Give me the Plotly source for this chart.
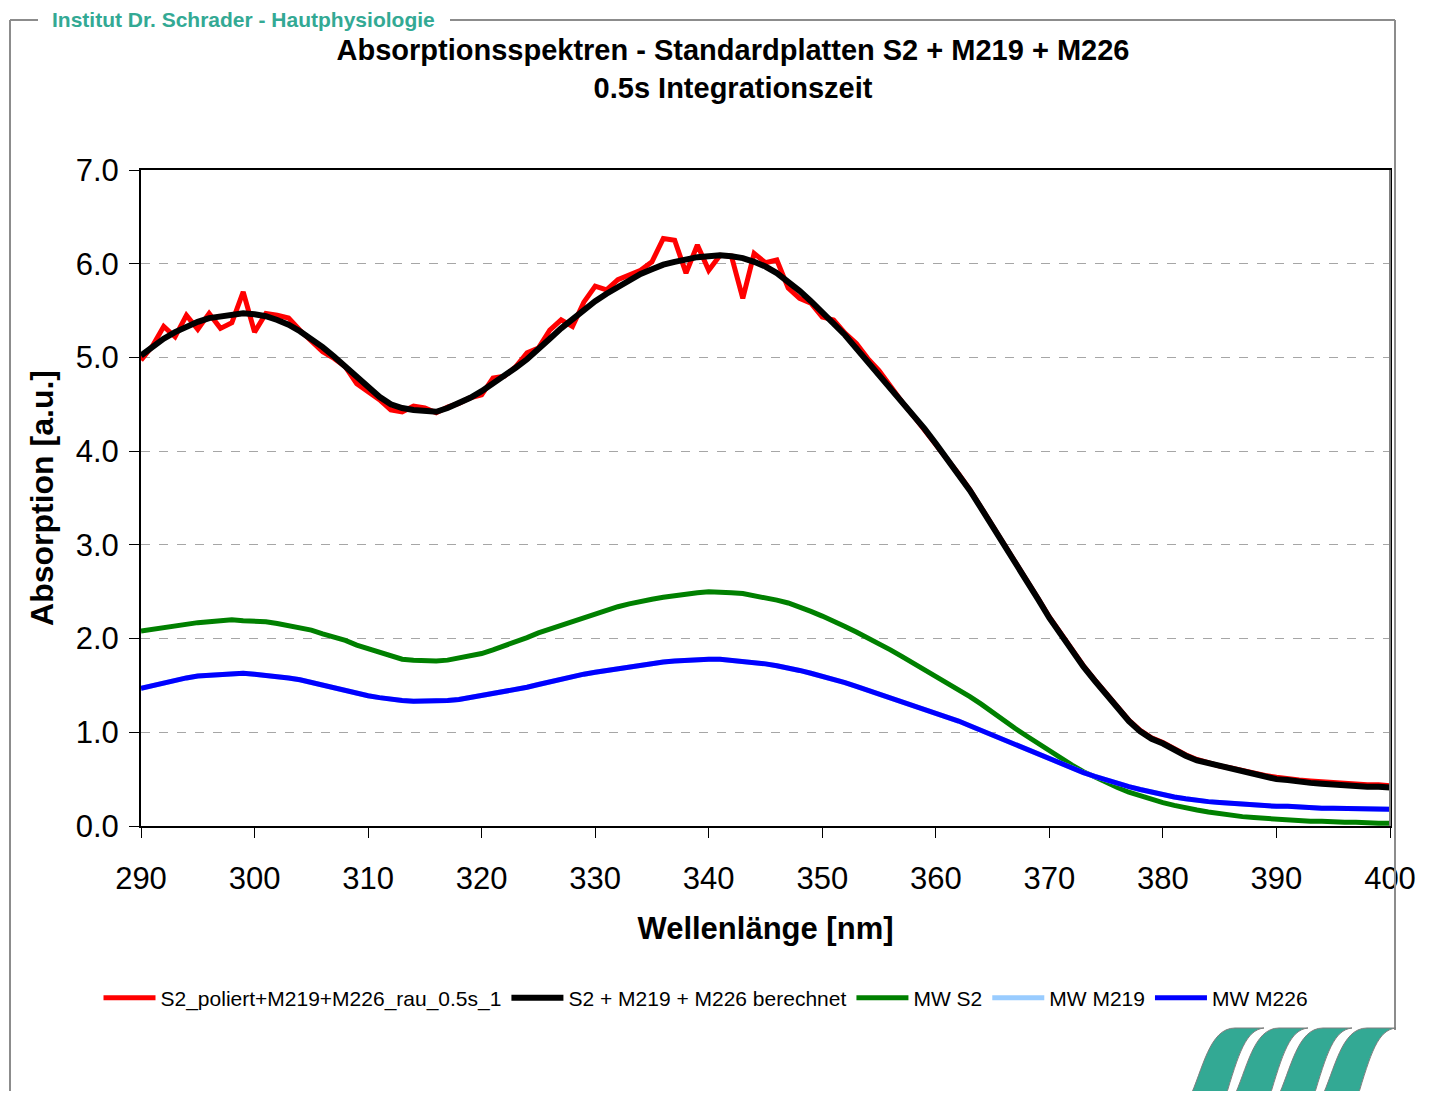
import plotly.graph_objects as go

OFF = 8                      # default page margin of the html body
PW, PH = 1431, 1099          # page size
W, H = PW - 2 * OFF, PH - 2 * OFF
L, R, T, B = 141, 1390, 170, 826   # plot area in page pixels

wavelength = list(range(290, 401))

measured = [4.97, 5.12, 5.33, 5.22, 5.45, 5.30, 5.47, 5.31, 5.37, 5.70,
            5.27, 5.47, 5.45, 5.42, 5.29, 5.17, 5.06, 4.99, 4.90, 4.72,
            4.63, 4.55, 4.44, 4.42, 4.48, 4.46, 4.41, 4.47, 4.51, 4.57,
            4.60, 4.78, 4.80, 4.90, 5.05, 5.10, 5.29, 5.40, 5.33, 5.59,
            5.76, 5.72, 5.83, 5.88, 5.93, 6.02, 6.27, 6.25, 5.90, 6.20,
            5.93, 6.09, 6.08, 5.63, 6.11, 6.01, 6.04, 5.74, 5.63, 5.58,
            5.43, 5.40, 5.26, 5.15, 4.99, 4.86, 4.69, 4.53, 4.38, 4.23,
            4.08, 3.92, 3.76, 3.59, 3.40, 3.21, 3.01, 2.82, 2.62, 2.43,
            2.23, 2.05, 1.87, 1.71, 1.56, 1.42, 1.29, 1.13, 1.02, 0.94,
            0.89, 0.82, 0.76, 0.71, 0.67, 0.64, 0.62, 0.59, 0.56, 0.54,
            0.52, 0.50, 0.49, 0.48, 0.47, 0.46, 0.45, 0.45, 0.44, 0.44,
            0.43]

calculated = [5.02, 5.12, 5.20, 5.27, 5.33, 5.38, 5.42, 5.44, 5.46, 5.47,
              5.46, 5.44, 5.40, 5.35, 5.28, 5.20, 5.11, 5.01, 4.90, 4.79,
              4.68, 4.58, 4.50, 4.46, 4.44, 4.43, 4.42, 4.46, 4.51, 4.57,
              4.64, 4.72, 4.80, 4.89, 4.98, 5.08, 5.20, 5.31, 5.41, 5.51,
              5.60, 5.68, 5.75, 5.82, 5.89, 5.94, 5.99, 6.02, 6.05, 6.07,
              6.08, 6.09, 6.08, 6.06, 6.02, 5.97, 5.90, 5.81, 5.71, 5.60,
              5.47, 5.36, 5.24, 5.10, 4.96, 4.82, 4.68, 4.54, 4.39, 4.24,
              4.08, 3.92, 3.76, 3.58, 3.39, 3.20, 3.00, 2.81, 2.61, 2.42,
              2.22, 2.04, 1.86, 1.70, 1.55, 1.40, 1.25, 1.12, 1.01, 0.93,
              0.88, 0.81, 0.75, 0.70, 0.67, 0.64, 0.61, 0.58, 0.55, 0.52,
              0.50, 0.49, 0.47, 0.46, 0.45, 0.44, 0.44, 0.43, 0.42, 0.42,
              0.41]

mw_s2 = [2.08, 2.10, 2.12, 2.14, 2.16, 2.17, 2.18, 2.19, 2.20, 2.19,
         2.19, 2.18, 2.16, 2.14, 2.12, 2.09, 2.05, 2.02, 1.98, 1.93,
         1.89, 1.85, 1.81, 1.78, 1.77, 1.76, 1.76, 1.77, 1.79, 1.81,
         1.84, 1.88, 1.92, 1.97, 2.01, 2.06, 2.10, 2.15, 2.19, 2.23,
         2.27, 2.31, 2.34, 2.37, 2.40, 2.42, 2.44, 2.46, 2.48, 2.49,
         2.50, 2.50, 2.49, 2.48, 2.46, 2.44, 2.41, 2.38, 2.34, 2.29,
         2.24, 2.19, 2.13, 2.07, 2.01, 1.94, 1.88, 1.81, 1.74, 1.67,
         1.60, 1.53, 1.46, 1.38, 1.30, 1.21, 1.13, 1.04, 0.96, 0.88,
         0.80, 0.72, 0.65, 0.58, 0.52, 0.46, 0.41, 0.36, 0.32, 0.28,
         0.25, 0.22, 0.19, 0.17, 0.15, 0.13, 0.11, 0.10, 0.09, 0.08,
         0.07, 0.06, 0.06, 0.05, 0.05, 0.04, 0.04, 0.04, 0.03, 0.03,
         0.03]

mw_m226 = [1.47, 1.50, 1.53, 1.56, 1.58, 1.60, 1.61, 1.62, 1.63, 1.63,
           1.62, 1.61, 1.60, 1.58, 1.56, 1.53, 1.50, 1.48, 1.45, 1.42,
           1.39, 1.37, 1.35, 1.34, 1.33, 1.33, 1.33, 1.34, 1.35, 1.37,
           1.39, 1.41, 1.43, 1.46, 1.48, 1.51, 1.54, 1.57, 1.59, 1.62,
           1.64, 1.66, 1.68, 1.70, 1.72, 1.73, 1.75, 1.76, 1.77, 1.78,
           1.78, 1.78, 1.77, 1.76, 1.75, 1.73, 1.71, 1.69, 1.66, 1.63,
           1.60, 1.57, 1.53, 1.49, 1.45, 1.41, 1.37, 1.33, 1.28, 1.24,
           1.20, 1.16, 1.12, 1.07, 1.02, 0.97, 0.92, 0.87, 0.81, 0.76,
           0.71, 0.66, 0.61, 0.57, 0.53, 0.49, 0.45, 0.42, 0.39, 0.36,
           0.33, 0.31, 0.29, 0.27, 0.26, 0.25, 0.24, 0.23, 0.22, 0.22,
           0.21, 0.21, 0.20, 0.20, 0.19, 0.19, 0.19, 0.19, 0.18, 0.18,
           0.18]

# MW M219 lies hidden beneath MW M226 in the reference
mw_m219 = list(mw_m226)

series_names = ["S2_poliert+M219+M226_rau_0.5s_1", "S2 + M219 + M226 berechnet",
                "MW S2", "MW M219", "MW M226"]
series_values = [measured, calculated, mw_s2, mw_m219, mw_m226]
series_colors = ["#FF0000", "#000000", "#008000", "#99CCFF", "#0000FF"]
series_widths = [5, 6, 5, 5, 5]

x_ticks = list(range(290, 401, 10))
y_ticks = [0, 1, 2, 3, 4, 5, 6, 7]

TEAL = "#33A994"


def px(xp):
    return (xp - L) / (R - L)


def py(yp):
    return (B - yp) / (B - T)


fig = go.Figure()
for name, vals, col, wd in zip(series_names, series_values, series_colors, series_widths):
    fig.add_trace(go.Scatter(x=wavelength, y=vals, mode="lines", name=name,
                             line=dict(color=col, width=wd)))

shapes = []
frame_col = "#8C8C8C"
# outer frame (page pixels)
for (x0, y0, x1, y1) in [(10, 20, 10, 1110), (10, 20, 38, 20), (450, 20, 1395, 20),
                         (1395, 20, 1395, 1030)]:
    shapes.append(dict(type="line", xref="paper", yref="paper",
                       x0=px(x0), y0=py(y0), x1=px(x1), y1=py(y1),
                       line=dict(color=frame_col, width=2)))
# right plot border gray
shapes.append(dict(type="line", xref="paper", yref="paper", x0=1, x1=1, y0=0, y1=1,
                   line=dict(color="#808080", width=2)))

# logo stripes
for i in range(4):
    x0 = 1183 + 44 * i
    pts = [("M", [(x0, 1110)]),
           ("L", [(x0 + 6, 1099)]),
           ("C", [(x0 + 20, 1070), (x0 + 26, 1028), (x0 + 52, 1028)]),
           ("L", [(x0 + 81, 1028)]),
           ("C", [(x0 + 63, 1030), (x0 + 56, 1052), (x0 + 42, 1099)]),
           ("L", [(x0 + 37, 1110)])]
    d = ""
    for cmd, plist in pts:
        d += cmd + " " + " ".join(f"{px(a):.5f},{py(b):.5f}" for a, b in plist) + " "
    d += "Z"
    shapes.append(dict(type="path", xref="paper", yref="paper", path=d,
                       fillcolor=TEAL, line=dict(color="#7F7F7F", width=1)))

annotations = [dict(text="<b>Institut Dr. Schrader - Hautphysiologie</b>", xref="paper", yref="paper",
                    x=px(243), y=py(20), xanchor="center", yanchor="middle", showarrow=False,
                    font=dict(family="Liberation Sans, Arial", size=21, color=TEAL))]

fig.update_layout(
    width=W, height=H,
    margin=dict(l=L - OFF, r=W - (R - OFF), t=T - OFF, b=H - (B - OFF), autoexpand=False),
    paper_bgcolor="white", plot_bgcolor="white",
    font=dict(family="Liberation Sans, Arial", color="black"),
    title=dict(text="<b>Absorptionsspektren - Standardplatten S2 + M219 + M226</b><br><b>0.5s Integrationszeit</b>",
               x=(733 - OFF) / W, xanchor="center", xref="container",
               y=1 - (60 - OFF) / H, yanchor="middle", yref="container",
               font=dict(family="Liberation Sans, Arial", size=29, color="black")),
    xaxis=dict(range=[290, 400], tickvals=x_ticks, ticktext=[str(v) for v in x_ticks],
               showgrid=False, zeroline=False, showline=True, linecolor="black", linewidth=2,
               mirror=True, ticks="outside", ticklen=10, tickwidth=1, tickcolor="black",
               ticklabelstandoff=14,
               tickfont=dict(size=31, family="Liberation Sans, Arial"),
               title=dict(text="<b>Wellenlänge [nm]</b>", standoff=22,
                          font=dict(size=31, family="Liberation Sans, Arial"))),
    yaxis=dict(range=[0, 7], tickvals=y_ticks, ticktext=[f"{v:.1f}" for v in y_ticks],
               showgrid=True, gridcolor="#A6A6A6", griddash="dash", gridwidth=1,
               zeroline=False, showline=True, linecolor="black", linewidth=2, mirror=True,
               ticks="outside", ticklen=10, tickwidth=1, tickcolor="black",
               ticklabelstandoff=4,
               tickfont=dict(size=31, family="Liberation Sans, Arial"),
               title=dict(text="<b>Absorption [a.u.]</b>", standoff=12,
                          font=dict(size=32, family="Liberation Sans, Arial"))),
    legend=dict(orientation="h", xref="container", yref="container",
                x=(706 - OFF) / W, xanchor="center", y=1 - (998 - OFF) / H, yanchor="middle",
                font=dict(size=21, family="Liberation Sans, Arial"),
                itemwidth=52, bgcolor="rgba(0,0,0,0)"),
    shapes=shapes, annotations=annotations,
)

fig.write_html("out.html")
